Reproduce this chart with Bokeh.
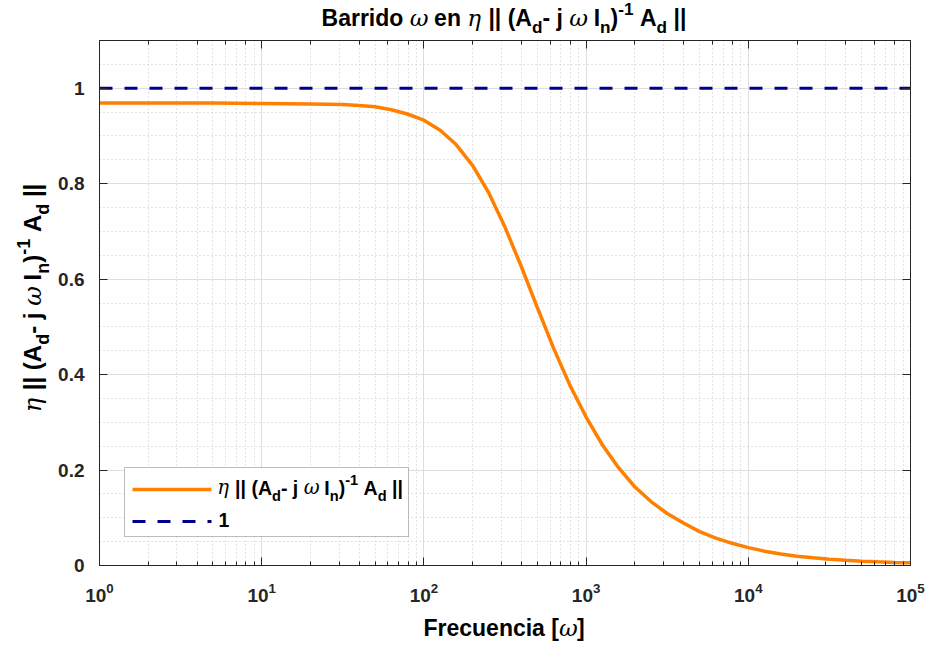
import math
from bokeh.plotting import figure
from bokeh.layouts import column, row
from bokeh.models import (Label, BoxAnnotation, Arrow, LinearAxis, LogAxis,
                          SingleIntervalTicker, NumeralTickFormatter, CustomJSTickFormatter, Range1d)
from bokeh.embed import file_html
from bokeh.resources import INLINE

# ---------------- data ----------------
freq = [1, 2, 5, 10, 20, 31.6, 39.8, 50, 63, 79, 100, 126, 158, 200, 251, 316, 398, 501,
        631, 794, 1000, 1259, 1585, 1995, 2512, 3162, 3981, 5012, 6310, 7943, 10000, 12589,
        15849, 19953, 25119, 31623, 39811, 50119, 63096, 79433, 100000]
eta_norm = [0.969, 0.969, 0.969, 0.968, 0.967, 0.966, 0.964, 0.961, 0.955, 0.946, 0.933,
            0.912, 0.882, 0.838, 0.781, 0.709, 0.627, 0.540, 0.455, 0.378, 0.311, 0.253,
            0.205, 0.165, 0.134, 0.109, 0.089, 0.071, 0.0575, 0.0465, 0.0375, 0.030, 0.024,
            0.0195, 0.016, 0.013, 0.0108, 0.009, 0.0076, 0.0065, 0.0056]
ref_freq = [1, 100000]
ref_level = [1.0, 1.0]

ORANGE = "#FF8000"
NAVY = "#00008F"
AX = "#262626"
TXT_SHIFT = 8  # correction of the label baseline

TITLE_H, XLAB_H, YLAB_W = 40, 30, 55
MAIN_W, MAIN_H = 930 - YLAB_W, 645 - TITLE_H - XLAB_H


def blank(w, h):
    f = figure(width=w, height=h, x_range=Range1d(0, 1), y_range=Range1d(0, 1),
               x_axis_location=None, y_axis_location=None, min_border=0,
               output_backend="svg", toolbar_location=None, title=None)
    f.outline_line_color = None
    f.grid.visible = False
    return f


title_fig = blank(930, TITLE_H)
ylab_fig = blank(YLAB_W, MAIN_H)
xlab_fig = blank(930, XLAB_H)

p = figure(width=MAIN_W, height=MAIN_H, x_axis_type="log", x_range=Range1d(1, 1e5),
           y_range=Range1d(0, 1.1), output_backend="svg", toolbar_location=None,
           min_border_left=42, min_border_right=20, min_border_top=0, min_border_bottom=50,
           title=None)
p.outline_line_color = AX
p.outline_line_width = 1

p.line(freq, eta_norm, line_color=ORANGE, line_width=3.5)
p.line(ref_freq, ref_level, line_color=NAVY, line_width=3, line_dash="13 12")

for ax in p.xaxis:
    ax.major_label_standoff = 17
for ax in p.yaxis:
    ax.ticker = SingleIntervalTicker(interval=0.2, num_minor_ticks=4)
    ax.formatter = NumeralTickFormatter(format="0.[0]")
    ax.major_label_standoff = 15
for ax in [*p.xaxis, *p.yaxis]:
    ax.major_label_text_font = "Liberation Sans"
    ax.major_label_text_font_style = "bold"
    ax.major_label_text_font_size = "19px"
    ax.major_label_text_color = AX

empty = CustomJSTickFormatter(code="return ''")
top = LogAxis(formatter=empty, major_label_text_font_size="0px", major_label_standoff=0)
right = LinearAxis(ticker=SingleIntervalTicker(interval=0.2, num_minor_ticks=4), formatter=empty,
                   major_label_text_font_size="0px", major_label_standoff=0)
p.add_layout(top, "above")
p.add_layout(right, "right")

for ax in [*p.xaxis, *p.yaxis, top, right]:
    ax.axis_line_color = AX
    ax.axis_line_width = 1
    ax.major_tick_line_color = AX
    ax.minor_tick_line_color = AX
    ax.major_tick_in = 8
    ax.major_tick_out = 0
    ax.minor_tick_in = 4
    ax.minor_tick_out = 0
for ax in [*p.yaxis, right]:
    ax.minor_tick_line_color = None

p.xgrid.grid_line_color = "#dedede"
p.ygrid.grid_line_color = "#dedede"
p.xgrid.minor_grid_line_color = "#c8c8c8"
p.ygrid.minor_grid_line_color = "#c8c8c8"
p.xgrid.minor_grid_line_dash = "1 3"
p.ygrid.minor_grid_line_dash = "1 3"

# ---------------- rich text helper ----------------
BW = {' ': 278, '(': 333, ')': 333, '-': 333, '|': 280, '[': 333, ']': 333, '1': 556,
      'A': 722, 'B': 722, 'F': 611, 'I': 278, 'a': 556, 'c': 556, 'd': 611, 'e': 556,
      'i': 278, 'j': 278, 'n': 611, 'o': 611, 'r': 389, 'u': 611}
GW = {'ω': 780, 'η': 640}
SUBS = 0.75


def piece_w(s, kind, size):
    if kind == "g":
        return sum(GW.get(c, 600) for c in s) / 1000 * size
    sz = size * SUBS if kind in ("sub", "sup") else size
    return sum(BW.get(c, 600) for c in s) / 1000 * sz


def total_w(pieces, size):
    return sum(piece_w(s, k, size) for s, k in pieces)


def place(fig, pieces, x0, y0, size, vertical=False, sup_shift=0.38):
    pos = 0.0
    for s, kind in pieces:
        lead = len(s) - len(s.lstrip(' '))
        trail = len(s) - len(s.rstrip(' '))
        core = s.strip(' ')
        if kind == "g":
            fsz, shift = size, 0.0
            font, style = "DejaVu Serif", "italic"
        else:
            font, style = "Liberation Sans", "bold"
            if kind == "sub":
                fsz, shift = size * SUBS, 0.42 * size
            elif kind == "sup":
                fsz, shift = size * SUBS, -sup_shift * size
            else:
                fsz, shift = size, 0.0
        shift -= TXT_SHIFT
        pos += piece_w(' ' * lead, kind, size)
        if vertical:
            x, y, ang = x0 + shift, y0 - pos, math.pi / 2
        else:
            x, y, ang = x0 + pos, y0 + shift, 0.0
        fig.add_layout(Label(x=x, y=y, x_units="canvas", y_units="canvas", text=core, angle=ang,
                             text_font=font, text_font_style=style,
                             text_font_size=f"{fsz:.1f}px", text_color="black",
                             text_align="left", text_baseline="alphabetic"))
        pos += piece_w(core, kind, size) + piece_w(' ' * trail, kind, size)


expr = [("η", "g"), (" || (A", "b"), ("d", "sub"), ("- j ", "b"), ("ω", "g"), (" I", "b"),
        ("n", "sub"), (")", "b"), ("-1", "sup"), (" A", "b"), ("d", "sub"), (" ||", "b")]
title = [("Barrido ", "b"), ("ω", "g"), (" en ", "b")] + expr
xl = [("Frecuencia [", "b"), ("ω", "g"), ("]", "b")]

# frame centre: x = 503.5 (page), y = 302.5 (page)
TS = 23
place(title_fig, title, 503.5 - total_w(title, TS) / 2, 25, TS, sup_shift=0.35)
YS = 24
place(ylab_fig, expr, 40, 297.5 - TITLE_H + total_w(expr, YS) / 2, YS, vertical=True)
XS = 23
place(xlab_fig, xl, 503.5 - total_w(xl, XS) / 2, 635 - (645 - XLAB_H), XS)

# ---------------- legend (main-figure canvas coords) ----------------
ox, oy = YLAB_W, TITLE_H
p.add_layout(BoxAnnotation(left=124 - ox, right=408 - ox, top=467 - oy, bottom=536 - oy,
                           left_units="canvas", right_units="canvas",
                           top_units="canvas", bottom_units="canvas",
                           fill_color="white", fill_alpha=1.0, line_color=AX, line_width=1))
p.add_layout(Arrow(end=None, x_start=132 - ox, y_start=489 - oy, x_end=211 - ox, y_end=489 - oy,
                   start_units="canvas", end_units="canvas", line_color=ORANGE, line_width=3.5))
p.add_layout(Arrow(end=None, x_start=132 - ox, y_start=521 - oy, x_end=211 - ox, y_end=521 - oy,
                   start_units="canvas", end_units="canvas", line_color=NAVY, line_width=3,
                   line_dash="13 12"))
LS = 19.5
place(p, expr, 216.7 - ox, 495 - oy, LS)
place(p, [("1", "b")], 218 - ox, 527 - oy, LS)

layout = column(title_fig, row(ylab_fig, p), xlab_fig)
open("out.html", "w").write(file_html(layout, INLINE))
